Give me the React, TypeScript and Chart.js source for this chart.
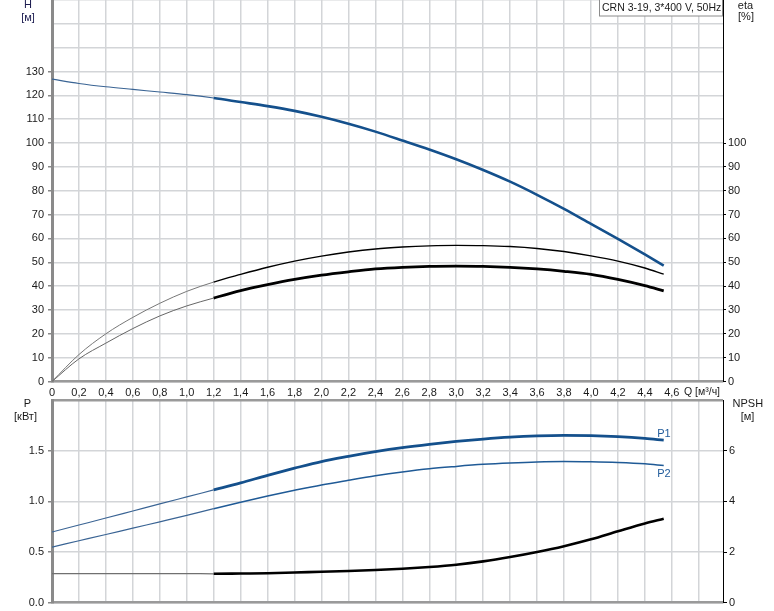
import React, { useEffect, useRef } from 'react';
import { Chart, registerables } from 'chart.js';

Chart.register(...registerables);

// ---- data ----
const qValues = [0, 0.2, 0.4, 0.6, 0.8, 1.0, 1.2, 1.4, 1.6, 1.8, 2.0, 2.2, 2.4, 2.6, 2.8, 3.0, 3.2, 3.4, 3.6, 3.8, 4.0, 4.2, 4.4, 4.54];
const headValues = [126.8, 125.0, 123.6, 122.5, 121.4, 120.3, 118.9, 117.2, 115.5, 113.5, 111.0, 108.1, 104.8, 101.1, 97.3, 93.2, 88.7, 83.8, 78.3, 72.4, 66.1, 59.8, 53.3, 48.6];
const etaPumpValues = [0, 11.3, 20.0, 26.9, 32.8, 37.8, 41.7, 44.9, 47.9, 50.5, 52.6, 54.3, 55.6, 56.4, 56.9, 57.1, 57.0, 56.6, 55.8, 54.5, 52.7, 50.5, 47.6, 45.0];
const etaTotalValues = [0, 9.5, 16.1, 22.2, 27.5, 31.7, 35.0, 38.1, 40.6, 42.8, 44.6, 46.0, 47.2, 47.9, 48.3, 48.4, 48.3, 47.9, 47.2, 46.2, 44.9, 42.8, 40.2, 38.0];
const p1Values = [0.697, 0.766, 0.835, 0.905, 0.975, 1.044, 1.113, 1.182, 1.257, 1.327, 1.393, 1.444, 1.490, 1.530, 1.563, 1.591, 1.615, 1.634, 1.646, 1.651, 1.648, 1.638, 1.621, 1.604];
const p2Values = [0.549, 0.611, 0.673, 0.736, 0.798, 0.861, 0.928, 0.992, 1.053, 1.109, 1.162, 1.208, 1.252, 1.290, 1.322, 1.345, 1.365, 1.379, 1.389, 1.393, 1.390, 1.383, 1.370, 1.353];
const npshValues = [1.15, 1.15, 1.15, 1.15, 1.15, 1.15, 1.14, 1.15, 1.16, 1.19, 1.22, 1.25, 1.29, 1.34, 1.41, 1.50, 1.63, 1.80, 2.00, 2.23, 2.50, 2.82, 3.13, 3.31];

const qTickValues = [0, 0.2, 0.4, 0.6, 0.8, 1.0, 1.2, 1.4, 1.6, 1.8, 2.0, 2.2, 2.4, 2.6, 2.8, 3.0, 3.2, 3.4, 3.6, 3.8, 4.0, 4.2, 4.4, 4.6, 4.8];
const qTickLabels = ['0', '0,2', '0,4', '0,6', '0,8', '1,0', '1,2', '1,4', '1,6', '1,8', '2,0', '2,2', '2,4', '2,6', '2,8', '3,0', '3,2', '3,4', '3,6', '3,8', '4,0', '4,2', '4,4', '4,6', ''];
const qAxisTitle = 'Q [м³/ч]';
const hTickValues = [0, 10, 20, 30, 40, 50, 60, 70, 80, 90, 100, 110, 120, 130, 140, 150, 160];
const etaTickValues = [0, 10, 20, 30, 40, 50, 60, 70, 80, 90, 100];
const pTickValues = [0, 0.5, 1.0, 1.5, 2.0];
const pTickLabels = ['0.0', '0.5', '1.0', '1.5', ''];
const npshTickValues = [0, 2, 4, 6];

const titleText = 'CRN 3-19, 3*400 V, 50Hz';
const hTitle = ['H', '[м]'];
const etaTitle = ['eta', '[%]'];
const pTitle = ['P', '[кВт]'];
const npshTitle = ['NPSH', '[м]'];
const p1Label = 'P1';
const p2Label = 'P2';

// ---- styles ----
const FONT = "'Liberation Sans', Arial, sans-serif";
const GRID = '#d3d5d8';
const TXT = '#1a1a1a';
const BLUE = '#14508c';
const START_THICK = 1.199;

const pts = (arr: number[]) => qValues.map((q, i) => ({ x: q, y: arr[i] }));

const seg = (thinW: number, thickW: number, thinC: string, thickC: string) => ({
  borderWidth: (c: any) => (c.p0.parsed.x >= START_THICK ? thickW : thinW),
  borderColor: (c: any) => (c.p0.parsed.x >= START_THICK ? thickC : thinC),
});

const lineDs = (data: number[], yAxisID: string, s: any, color: string) => ({
  type: 'line' as const,
  data: pts(data),
  yAxisID,
  borderColor: color,
  borderWidth: 1,
  pointRadius: 0,
  cubicInterpolationMode: 'monotone' as const,
  segment: s,
  fill: false,
});

const fixTicks = (vals: number[]) => (s: any) => {
  s.ticks = vals.map((v) => ({ value: v }));
};

export default function App() {
  const topRef = useRef<HTMLCanvasElement>(null);
  const botRef = useRef<HTMLCanvasElement>(null);

  useEffect(() => {
    const font = { family: FONT, size: 11 };

    const topTextPlugin = {
      id: 'topText',
      afterDraw(chart: any) {
        const ctx = chart.ctx;
        ctx.save();
        ctx.font = `11px ${FONT}`;
        ctx.fillStyle = '#1c1c50';
        ctx.textAlign = 'center';
        ctx.textBaseline = 'middle';
        ctx.fillText(hTitle[0], 28, 5);
        ctx.fillText(hTitle[1], 28, 17.5);
        ctx.fillStyle = TXT;
        ctx.fillText(etaTitle[0], 745.5, 5.5);
        ctx.fillText(etaTitle[1], 746, 17);
        // Q axis title after the last tick
        ctx.textAlign = 'left';
        ctx.font = `10.5px ${FONT}`;
        ctx.fillText(qAxisTitle, 684, 392);
        // title box
        ctx.fillStyle = '#ffffff';
        ctx.fillRect(599, -1, 123.5, 17);
        ctx.strokeStyle = '#8c8c8c';
        ctx.lineWidth = 1;
        ctx.strokeRect(599.5, -0.5, 123, 16.5);
        ctx.fillStyle = TXT;
        ctx.fillText(titleText, 602, 8);
        ctx.restore();
      },
    };

    const botTextPlugin = {
      id: 'botText',
      afterDraw(chart: any) {
        const ctx = chart.ctx;
        const xs = chart.scales.x;
        const ys = chart.scales.yP;
        ctx.save();
        ctx.font = `11px ${FONT}`;
        ctx.fillStyle = TXT;
        ctx.textAlign = 'center';
        ctx.textBaseline = 'middle';
        ctx.fillText(pTitle[0], 27.5, 8);
        ctx.fillText(pTitle[1], 25.5, 20.5);
        ctx.fillText(npshTitle[0], 747.8, 8);
        ctx.fillText(npshTitle[1], 747.5, 20.5);
        const last = qValues.length - 1;
        const xe = xs.getPixelForValue(qValues[last]);
        ctx.fillStyle = '#1f5a9a';
        ctx.textAlign = 'left';
        ctx.fillText(p1Label, xe - 6.5, ys.getPixelForValue(p1Values[last]) - 6);
        ctx.fillText(p2Label, xe - 6.5, ys.getPixelForValue(p2Values[last]) + 8);
        ctx.restore();
      },
    };

    const top = new Chart(topRef.current as HTMLCanvasElement, {
      type: 'line',
      data: {
        datasets: [
          lineDs(headValues, 'y', seg(1.1, 2.6, '#3a6494', BLUE), BLUE),
          lineDs(etaPumpValues, 'y', seg(1, 1.4, '#777777', '#000000'), '#000'),
          lineDs(etaTotalValues, 'y', seg(1, 2.8, '#666666', '#000000'), '#000'),
        ] as any,
      },
      options: {
        responsive: false,
        maintainAspectRatio: false,
        animation: false,
        layout: { padding: 0 },
        plugins: { legend: { display: false }, tooltip: { enabled: false } },
        scales: {
          x: {
            type: 'linear',
            position: 'bottom',
            min: 0,
            max: 4.98,
            afterBuildTicks: fixTicks(qTickValues),
            ticks: {
              callback: (_v: any, i: number) => qTickLabels[i],
              font,
              color: TXT,
              padding: 5,
              maxRotation: 0,
              minRotation: 0,
              autoSkip: false,
            },
            grid: { color: GRID, lineWidth: 1.5, drawTicks: false },
            border: { color: '#9a9a9a', width: 2.5 },
            afterFit: (s: any) => {
              s.height = 18.5;
              s.paddingLeft = 0;
              s.paddingRight = 0;
            },
          },
          y: {
            type: 'linear',
            position: 'left',
            min: 0,
            max: 160,
            afterBuildTicks: fixTicks(hTickValues),
            ticks: {
              callback: (v: any) => (v <= 130 ? String(v) : ''),
              font,
              color: TXT,
              padding: 4,
            },
            grid: {
              color: GRID,
              lineWidth: 1.5,
              tickLength: 4,
              tickWidth: 1.5,
              tickColor: (c: any) => (c.tick && c.tick.value <= 130 ? '#888' : 'rgba(0,0,0,0)'),
            },
            border: { color: '#8a8a8a', width: 3 },
            afterFit: (s: any) => {
              s.width = 52;
              s.paddingTop = 0;
              s.paddingBottom = 0;
            },
          },
          yEta: {
            type: 'linear',
            position: 'right',
            min: 0,
            max: 160,
            afterBuildTicks: fixTicks(etaTickValues),
            ticks: { font, color: TXT, padding: 2 },
            grid: { drawOnChartArea: false, tickLength: 3, tickColor: '#000', tickWidth: 1 },
            border: { color: '#000', width: 1 },
            afterFit: (s: any) => {
              s.width = 51;
              s.paddingTop = 0;
              s.paddingBottom = 0;
            },
          },
        },
      } as any,
      plugins: [topTextPlugin],
    });

    const bot = new Chart(botRef.current as HTMLCanvasElement, {
      type: 'line',
      data: {
        datasets: [
          lineDs(p1Values, 'yP', seg(1.1, 2.8, '#3a6494', BLUE), BLUE),
          lineDs(p2Values, 'yP', seg(1.2, 1.5, '#3a6494', '#1f5a96'), '#1f5a96'),
          lineDs(npshValues, 'yN', seg(1.2, 2.6, '#707070', '#000000'), '#000'),
        ] as any,
      },
      options: {
        responsive: false,
        maintainAspectRatio: false,
        animation: false,
        layout: { padding: { top: 4, left: 0, right: 0, bottom: 0 } },
        plugins: { legend: { display: false }, tooltip: { enabled: false } },
        scales: {
          x: {
            type: 'linear',
            position: 'bottom',
            min: 0,
            max: 4.98,
            afterBuildTicks: fixTicks(qTickValues),
            ticks: { display: false },
            grid: { color: GRID, lineWidth: 1.5, drawTicks: false },
            border: { color: '#9a9a9a', width: 2.5 },
            afterFit: (s: any) => {
              s.height = 8.3;
              s.paddingLeft = 0;
              s.paddingRight = 0;
            },
          },
          yP: {
            type: 'linear',
            position: 'left',
            min: 0,
            max: 2,
            afterBuildTicks: fixTicks(pTickValues),
            ticks: {
              callback: (_v: any, i: number) => pTickLabels[i],
              font,
              color: TXT,
              padding: 4,
            },
            grid: {
              color: (c: any) => (c.tick && c.tick.value === 2 ? '#9a9a9a' : GRID),
              lineWidth: (c: any) => (c.tick && c.tick.value === 2 ? 2.5 : 1.5),
              tickLength: 4,
              tickWidth: 1.5,
              tickColor: (c: any) => (c.tick && c.tick.value < 2 ? '#888' : 'rgba(0,0,0,0)'),
            },
            border: { color: '#8a8a8a', width: 3 },
            afterFit: (s: any) => {
              s.width = 52;
              s.paddingTop = 0;
              s.paddingBottom = 0;
            },
          },
          yN: {
            type: 'linear',
            position: 'right',
            min: 0,
            max: 8,
            afterBuildTicks: fixTicks(npshTickValues),
            ticks: { font, color: TXT, padding: 2 },
            grid: { drawOnChartArea: false, tickLength: 4, tickColor: '#000', tickWidth: 1 },
            border: { color: '#000', width: 1 },
            afterFit: (s: any) => {
              s.width = 51;
              s.paddingTop = 0;
              s.paddingBottom = 0;
            },
          },
        },
      } as any,
      plugins: [botTextPlugin],
    });

    return () => {
      top.destroy();
      bot.destroy();
    };
  }, []);

  return (
    <div style={{ position: 'fixed', left: 0, top: 0, width: 774, height: 611, background: '#ffffff', overflow: 'hidden' }}>
      <canvas ref={topRef} width={774} height={400} style={{ position: 'absolute', left: 0, top: 0, width: 774, height: 400 }} />
      <canvas ref={botRef} width={774} height={215} style={{ position: 'absolute', left: 0, top: 396, width: 774, height: 215 }} />
    </div>
  );
}
